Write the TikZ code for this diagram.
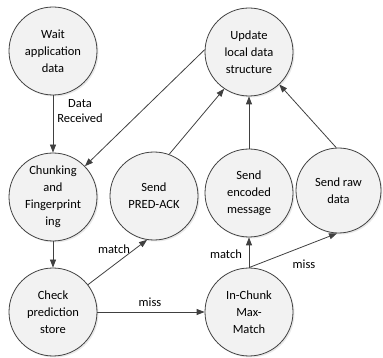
\documentclass[tikz,border=0pt]{standalone}
\usepackage{fontspec}
\setmainfont{Carlito}
\usetikzlibrary{arrows.meta,shadows}
\definecolor{linegray}{HTML}{404040}
\definecolor{fillgray}{HTML}{F2F2F2}
\tikzset{
  state/.style={circle, draw=linegray, line width=0.8pt, fill=fillgray,
    minimum size=88pt, inner sep=0pt, align=center,
    font=\fontsize{12.5}{17}\selectfont, text=black,
    drop shadow={opacity=0.18, shadow xshift=1.5pt, shadow yshift=-1.5pt}},
  flow/.style={draw=linegray, line width=0.8pt,
    -{Triangle[length=8pt,width=6pt]}},
  elabel/.style={font=\fontsize{12.5}{15}\selectfont, text=black, inner sep=1pt}
}
\begin{document}
\begin{tikzpicture}[x=1pt,y=-1pt]
  \useasboundingbox (0,0) rectangle (383,358);
  % states
  \node[state] (wait)   at (53,51)  {Wait\\application\\data};
  \node[state] (update) at (249,52) {Update\\local data\\structure};
  \node[state] (chunk)  at (53,197) {Chunking\\and\\Fingerprint\\ing};
  \node[state] (pred)   at (154,196) {Send\\PRED-ACK};
  \node[state] (enc)    at (249,193) {Send\\encoded\\message};
  \node[state, minimum size=85pt] (raw) at (338.5,190.5) {Send raw\\data};
  \node[state] (check)  at (53,312) {Check\\prediction\\store};
  \node[state] (inchunk) at (249,312) {In-Chunk\\Max-\\Match};
  % transitions
  \draw[flow] (wait) -- (chunk);
  \node[elabel, align=center] (lrecv) at (80,111) {Data\\Received};
  \draw[flow] (update.177) -- (chunk.44);
  \draw[flow] (pred.70) -- (update.236);
  \draw[flow] (enc) -- (update);
  \draw[flow] (raw.93) -- (update.313);
  \draw[flow] (chunk) -- (check);
  \draw[flow] (check.38) -- (pred.261);
  \node[elabel] (lmatch1) at (114,249) {match};
  \draw[flow] (check) -- (inchunk);
  \node[elabel] (lmiss1) at (150,302) {miss};
  \draw[flow] (inchunk) -- (enc);
  \node[elabel] (lmatch2) at (226,254) {match};
  \draw[flow] (inchunk.north) -- (raw.268);
  \node[elabel] (lmiss2) at (304,264) {miss};
\end{tikzpicture}
\end{document}
